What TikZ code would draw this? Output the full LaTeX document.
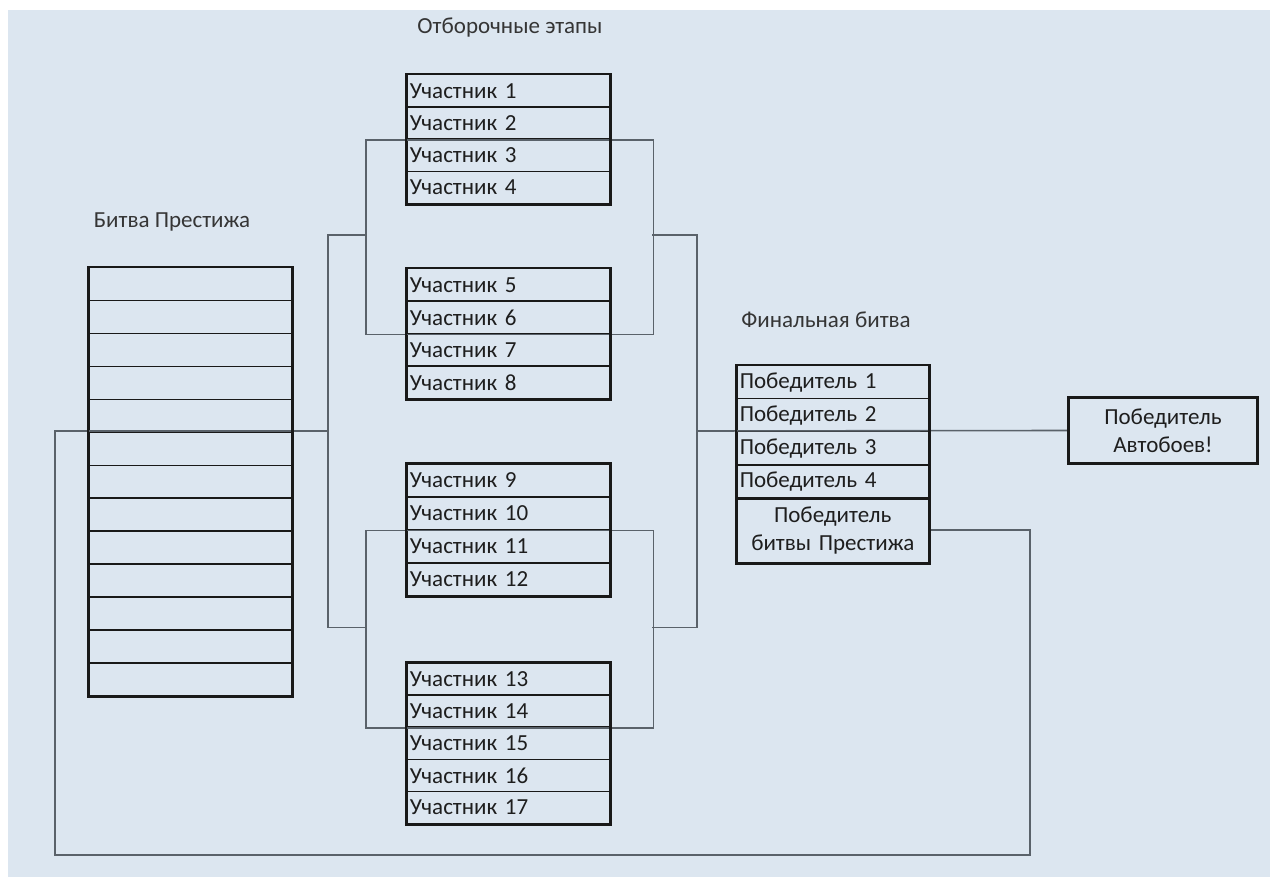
\documentclass[tikz,border=0pt]{standalone}
\usepackage{fontspec}
\setmainfont{Carlito}
\definecolor{bgc}{HTML}{DCE6F0}
\definecolor{connc}{HTML}{5A626A}
\definecolor{txtc}{HTML}{1E1E1E}
\begin{document}
\begin{tikzpicture}[x=1pt,y=-1pt,
  cell/.style={draw=black!90, line width=1.5pt, anchor=north west, inner xsep=3pt, inner ysep=0pt,
    text width=#1, align=left, font=\fontsize{23}{26}\selectfont, text=txtc},
  cell/.default=197pt,
  frame/.style={draw=black!90, line width=2.8pt},
  conn/.style={draw=connc, line width=1.6pt},
  title/.style={font=\fontsize{23}{26}\selectfont, text=txtc!90}]
\useasboundingbox (0,0) rectangle (1270,877);
\fill[white] (0,0) rectangle (1270,877);
\fill[bgc] (8,10) rectangle (1270,877);

% titles
\node[title] (t1) at (510,28) {Отборочные этапы};
\node[title] (t2) at (172,222) {Битва Престижа};
\node[title] (t3) at (826,320) {Финальная битва};

% participant boxes
\foreach \i in {1,...,4}
  \node[cell, minimum height=32.25pt] (u\i) at (406,{74+(\i-1)*32.25}) {Участник \i};
\foreach \i in {5,...,8}
  \node[cell, minimum height=32.5pt] (u\i) at (406,{268+(\i-5)*32.5}) {Участник \i};
\foreach \i in {9,...,12}
  \node[cell, minimum height=33pt] (u\i) at (406,{463+(\i-9)*33}) {Участник \i};
\foreach \i in {13,...,17}
  \node[cell, minimum height=32.2pt] (u\i) at (406,{662+(\i-13)*32.2}) {Участник \i};

% prestige box
\foreach \i in {1,...,13}
  \node[cell, minimum height=32.92pt] (pr\i) at (88,{267+(\i-1)*32.92}) {};

% final box
\foreach \i in {1,...,4}
  \node[cell=186pt, minimum height=33pt] (f\i) at (736,{365+(\i-1)*33}) {Победитель \i};
\node[cell=186pt, minimum height=65pt, align=center, font=\fontsize{23}{28}\selectfont] (fp) at (736,497) {Победитель\\битвы Престижа};

% winner
\node[draw=none, minimum width=188pt, minimum height=65pt, inner sep=0pt, align=center,
  font=\fontsize{23}{28}\selectfont, text=txtc] (win) at (1163,430.5) {Победитель\\Автобоев!};

% connector coordinates
\coordinate (m1L) at (366,235);
\coordinate (m1R) at (652,235);
\coordinate (m2L) at (366,627.5);
\coordinate (m2R) at (652,627.5);
\coordinate (oL) at (328,431);
\coordinate (oR) at (697,431);
\coordinate (lp) at (55,431);
\coordinate (rp) at (1030,855);

% connectors
\draw[conn] ([xshift=-40pt]u2.south west) rectangle ([xshift=43pt]u6.south east);
\draw[conn] ([xshift=-40pt]u10.south west) rectangle ([xshift=43pt]u14.south east);
\draw[conn] (m1L) -- ++(-38,0) |- (m2L);
\draw[conn] (m1R) -- ++(45,0) |- (m2R);
\draw[conn] (oR) -- (win.west);
\draw[conn] (fp.east) -| (rp) -| (lp) -- (oL);

% frames
\draw[frame] (u1.north west) rectangle (u4.south east);
\draw[frame] (u5.north west) rectangle (u8.south east);
\draw[frame] (u9.north west) rectangle (u12.south east);
\draw[frame] (u13.north west) rectangle (u17.south east);
\draw[frame] (pr1.north west) rectangle (pr13.south east);
\draw[frame] (f1.north west) rectangle (fp.south east);
\draw[frame] (f4.south west) -- (f4.south east);
\draw[frame] (win.north west) rectangle (win.south east);
\end{tikzpicture}
\end{document}
